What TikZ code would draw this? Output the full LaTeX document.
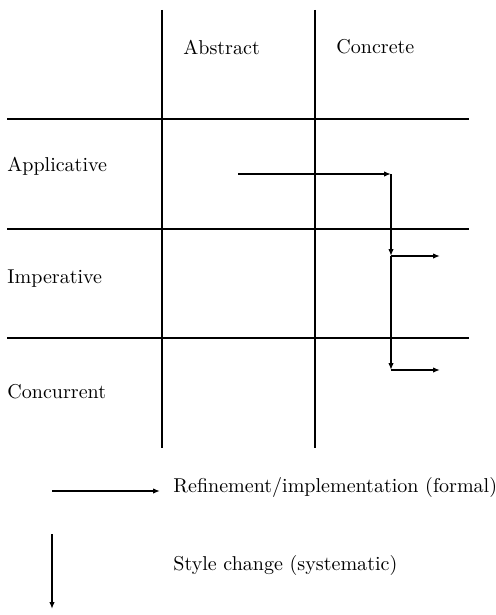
\documentclass[tikz,border=0pt]{standalone}
\usetikzlibrary{arrows.meta}
\begin{document}
\begin{tikzpicture}[x=0.5265pt,y=-0.5265pt,
  gridline/.style={line width=1pt},
  flow/.style={line width=1pt,-{Latex[length=3.6pt,width=2.8pt]}},
  lbl/.style={inner sep=0pt,anchor=west,font=\fontsize{10.55}{12.5}\selectfont}]
\useasboundingbox (0,0) rectangle (496,615);
% grid
\coordinate (v1t) at (162,10); \coordinate (v1b) at (162,448);
\coordinate (v2t) at (315,10); \coordinate (v2b) at (315,448);
\coordinate (h1l) at (7,119); \coordinate (h1r) at (469,119);
\coordinate (h2l) at (7,229); \coordinate (h2r) at (469,229);
\coordinate (h3l) at (7,338); \coordinate (h3r) at (469,338);
\draw[gridline] (v1t) -- (v1b);
\draw[gridline] (v2t) -- (v2b);
\draw[gridline] (h1l) -- (h1r);
\draw[gridline] (h2l) -- (h2r);
\draw[gridline] (h3l) -- (h3r);
% labels
\node[lbl] (abs) at (183,47) {Abstract};
\node[lbl] (con) at (336,47) {Concrete};
\node[lbl] (app) at (7,166) {Applicative};
\node[lbl] (imp) at (7,279) {Imperative};
\node[lbl] (cur) at (7,392) {Concurrent};
% arrows
\coordinate (s) at (238,174);
\coordinate (c1) at (391,174);
\coordinate (c2) at (391,256);
\coordinate (e2) at (440,256);
\coordinate (c3) at (391,370);
\coordinate (e3) at (440,370);
\draw[flow] (s) -- (c1);
\draw[flow] (c1) -- (c2);
\draw[flow] (c2) -- (e2);
\draw[flow] (c2) -- (c3);
\draw[flow] (c3) -- (e3);
% legend
\coordinate (la) at (52,491); \coordinate (lb) at (160,491);
\coordinate (lc) at (52,534); \coordinate (ld) at (52,609);
\draw[flow] (la) -- (lb);
\draw[flow] (lc) -- (ld);
\node[lbl] (ref) at (173,487) {Refinement/implementation (formal)};
\node[lbl] (sty) at (173,565) {Style change (systematic)};
\end{tikzpicture}
\end{document}
